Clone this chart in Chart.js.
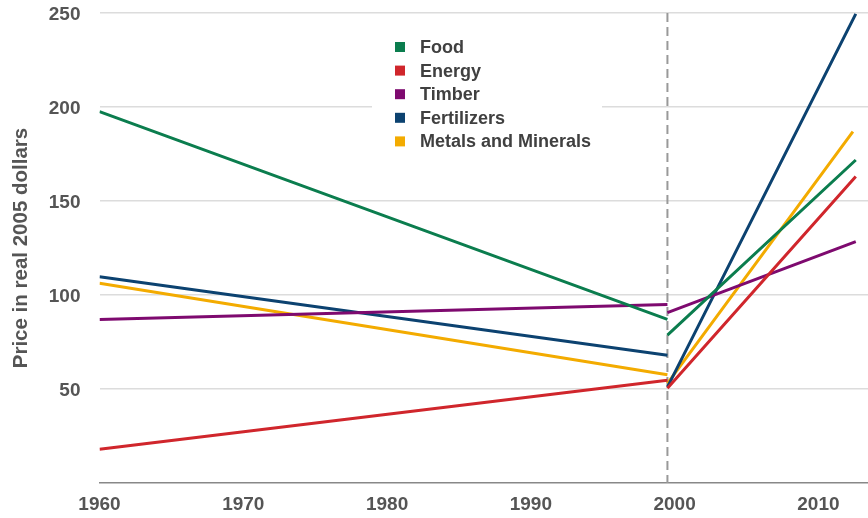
<!DOCTYPE html>
<html>
<head>
<meta charset="utf-8">
<script src="https://cdn.jsdelivr.net/npm/chart.js@4"></script>
<style>
  html, body { margin: 0; padding: 0; background: #ffffff; }
  #wrap { width: 868px; height: 518px; }
</style>
</head>
<body>
<div id="wrap"><canvas id="chart" width="868" height="518"></canvas></div>
<script>
// Commodity price trends, real 2005 dollars
const SERIES_NAMES = ['Food', 'Energy', 'Timber', 'Fertilizers', 'Metals and Minerals'];
const SERIES_COLORS = ['#0b7d4e', '#d0262c', '#7e0a6f', '#0c4270', '#f3ab00'];

// Long-run trend 1960 -> break, then the recent run-up break -> end
const START_YEAR = 1960;
const BREAK_YEAR = 1999.5;
const END_YEARS = [2012.6, 2012.6, 2012.6, 2012.6, 2012.4];

const food   = [197.5, 87.0, 78.7, 171.8];
const energy = [17.9, 54.6, 50.4, 163.0];
const timber = [87.0, 95.0, 90.6, 128.4];
const fert   = [109.7, 67.9, 51.0, 249.5];
const metals = [106.2, 57.6, 53.0, 186.9];
const SERIES_VALUES = [food, energy, timber, fert, metals];

const X_TICKS = [1960, 1970, 1980, 1990, 2000, 2010];
const Y_TICKS = [0, 50, 100, 150, 200, 250];

const FONT = 'Liberation Sans, Arial, sans-serif';

function buildPoints(vals, endYear) {
  return [
    { x: START_YEAR, y: vals[0] },
    { x: BREAK_YEAR, y: vals[1] },
    { x: BREAK_YEAR, y: null },
    { x: BREAK_YEAR, y: vals[2] },
    { x: endYear, y: vals[3] }
  ];
}

const datasets = SERIES_NAMES.map((name, i) => ({
  label: name,
  data: buildPoints(SERIES_VALUES[i], END_YEARS[i]),
  borderColor: SERIES_COLORS[i],
  backgroundColor: SERIES_COLORS[i],
  borderWidth: 3,
  pointRadius: 0,
  pointHoverRadius: 0,
  tension: 0,
  spanGaps: false,
  fill: false
}));

// Vertical dashed marker at the break year
const breakLine = {
  id: 'breakLine',
  beforeDatasetsDraw(chart) {
    const { ctx, scales: { x, y } } = chart;
    const px = x.getPixelForValue(BREAK_YEAR);
    ctx.save();
    ctx.strokeStyle = '#999999';
    ctx.lineWidth = 2;
    ctx.setLineDash([9, 5]);
    ctx.beginPath();
    ctx.moveTo(px, y.getPixelForValue(250));
    ctx.lineTo(px, y.getPixelForValue(0));
    ctx.stroke();
    ctx.restore();
  }
};

// Boxed legend floating inside the plot
const boxLegend = {
  id: 'boxLegend',
  afterDatasetsDraw(chart, args, opts) {
    const { ctx } = chart;
    ctx.save();
    ctx.fillStyle = '#ffffff';
    ctx.fillRect(opts.left, opts.top, opts.width, opts.height);
    ctx.font = 'bold 18px ' + FONT;
    ctx.textBaseline = 'middle';
    ctx.textAlign = 'left';
    chart.data.datasets.forEach((ds, i) => {
      const cy = opts.firstRow + i * opts.rowGap;
      ctx.fillStyle = ds.borderColor;
      ctx.fillRect(opts.markerX, cy - 5, 10, 10);
      ctx.fillStyle = '#404040';
      ctx.fillText(ds.label, opts.textX, cy + 1);
    });
    ctx.restore();
  }
};

new Chart(document.getElementById('chart'), {
  type: 'line',
  data: { datasets },
  options: {
    responsive: false,
    animation: false,
    layout: { padding: { top: 13, right: 0, bottom: 0, left: 0 } },
    plugins: {
      legend: { display: false },
      tooltip: { enabled: false },
      boxLegend: {
        left: 372, top: 26, width: 230, height: 130,
        markerX: 395, textX: 420, firstRow: 47, rowGap: 23.6
      }
    },
    scales: {
      x: {
        type: 'linear',
        min: 1960,
        max: 2013.45,
        afterBuildTicks: (s) => { s.ticks = X_TICKS.map(v => ({ value: v })); },
        afterFit: (s) => { s.height = 35; s.paddingLeft = 0; s.paddingRight = 0; },
        grid: { display: false, drawTicks: false },
        border: { display: true, color: '#888888', width: 1.5 },
        ticks: {
          padding: 10,
          maxRotation: 0,
          autoSkip: false,
          color: '#555555',
          font: { family: FONT, size: 19, weight: 'bold' },
          callback: (v) => String(v)
        }
      },
      y: {
        type: 'linear',
        min: 0,
        max: 250,
        afterBuildTicks: (s) => { s.ticks = Y_TICKS.map(v => ({ value: v })); },
        afterFit: (s) => { s.width = 99.5; s.paddingTop = 0; s.paddingBottom = 0; },
        grid: {
          color: (c) => (c.tick && c.tick.value === 0 ? 'rgba(0,0,0,0)' : '#dcdcdc'),
          lineWidth: 1.5,
          drawTicks: false
        },
        border: { display: false },
        ticks: {
          padding: 19,
          labelOffset: 2,
          color: '#555555',
          font: { family: FONT, size: 19, weight: 'bold' },
          callback: (v) => (v === 0 ? '' : String(v))
        },
        title: {
          display: true,
          text: 'Price in real 2005 dollars',
          color: '#555555',
          font: { family: FONT, size: 20.5, weight: 'bold' },
          padding: { top: 9, bottom: 0 }
        }
      }
    }
  },
  plugins: [breakLine, boxLegend]
});
</script>
</body>
</html>
